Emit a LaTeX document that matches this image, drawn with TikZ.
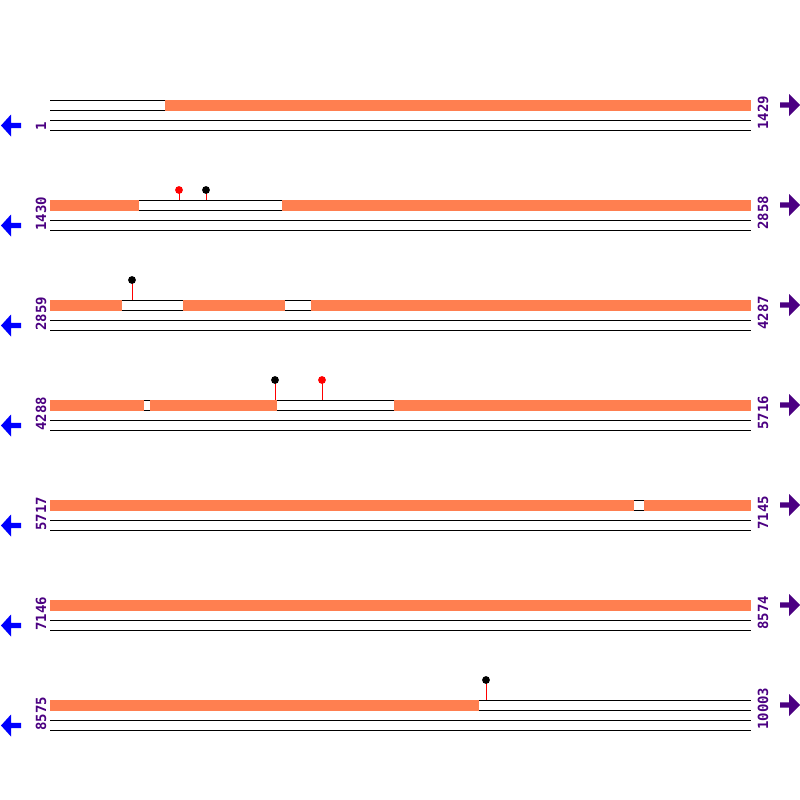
\documentclass[tikz,border=0pt]{standalone}
\usepackage{fontspec}
\setmainfont{DejaVu Sans}
\newfontfamily\lblfont{DejaVu Sans Mono}
\begin{document}
\begin{tikzpicture}[x=1pt,y=-1pt]
\definecolor{seg}{RGB}{255,127,80}
\definecolor{lbl}{RGB}{75,0,130}
\definecolor{larr}{RGB}{0,0,255}
\tikzset{
  trackline/.style={draw=black,line width=1pt},
  segbar/.style={fill=seg,draw=none},
  stem/.style={draw=red,line width=1pt},
  lefttxt/.style={rotate=90,anchor=base west,inner sep=0pt,text=lbl,font=\lblfont\bfseries\fontsize{14}{14}\selectfont},
  lflow/.style={fill=larr,draw=none},
  rflow/.style={fill=lbl,draw=none}
}
\useasboundingbox (0,0) rectangle (800,800);
\fill[white] (0,0) rectangle (800,800);
% rows
\foreach \k/\a/\b in {0/1/1429,1/1430/2858,2/2859/4287,3/4288/5716,4/5717/7145,5/7146/8574,6/8575/10003}{
  \pgfmathsetmacro{\yy}{100+100*\k}
  \foreach \d in {0,10,20,30}{
    \draw[trackline] (50,\yy+\d) -- (751,\yy+\d);
  }
  \node[lefttxt] (ls\k) at (46,\yy+31) {\a};
  \node[lefttxt] (rs\k) at (768,\yy+30) {\b};
  % left arrow
  \pgfmathsetmacro{\ly}{\yy+25.5}
  \fill[lflow] (1,\ly) -- (11,\ly-11) -- (11,\ly-2.7) -- (21,\ly-2.7) -- (21,\ly+2.7) -- (11,\ly+2.7) -- (11,\ly+11) -- cycle;
  % right arrow
  \pgfmathsetmacro{\ry}{\yy+5}
  \fill[rflow] (800,\ry) -- (789,\ry-11) -- (789,\ry-2.7) -- (780,\ry-2.7) -- (780,\ry+2.7) -- (789,\ry+2.7) -- (789,\ry+11) -- cycle;
}
% orange segments
\foreach \k/\s/\e in {0/165/751,
  1/50/139,1/282/751,
  2/50/122,2/183/285,2/311/751,
  3/50/144,3/150/277,3/394/751,
  4/50/634,4/644/751,
  5/50/751,
  6/50/479}{
  \pgfmathsetmacro{\yy}{100+100*\k}
  \fill[segbar] (\s,\yy-0.5) rectangle (\e,\yy+10.5);
}
% pins
\foreach \x/\top/\base/\c in {179/190/200/red,206/190/200/black,132/280/300/black,275/380/400/black,322/380/400/red,486/680/700/black}{
  \draw[stem] (\x,\top) -- (\x,\base);
  \fill[\c] (\x,\top) circle (3.9);
}
\end{tikzpicture}
\end{document}
